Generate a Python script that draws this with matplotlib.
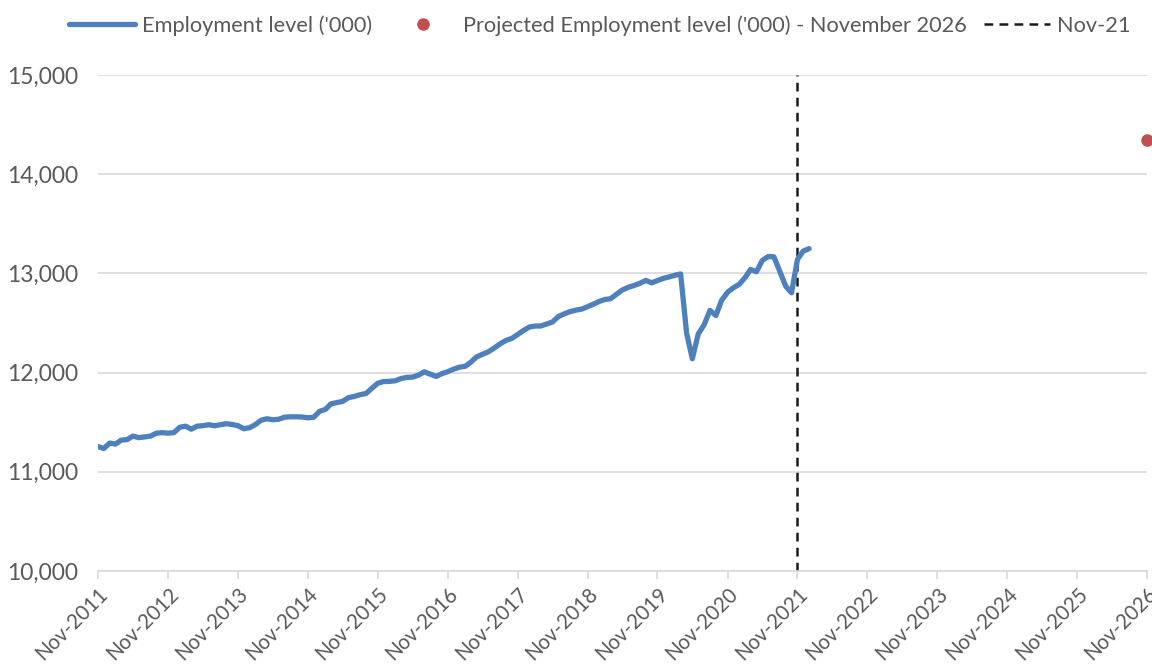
import matplotlib.pyplot as plt
import numpy as np
import pandas as pd

plt.rcParams['font.family'] = ['Lato', 'DejaVu Sans']

# Monthly employment level ('000), Nov-2011 onwards
employment = [
    11255, 11235, 11290, 11280, 11320, 11325, 11360, 11345, 11352, 11360, 11390, 11395,
    11390, 11395, 11450, 11460, 11430, 11460, 11465, 11475, 11465, 11475, 11485, 11478,
    11465, 11435, 11445, 11478, 11520, 11535, 11525, 11530, 11550, 11555, 11555, 11553,
    11545, 11550, 11610, 11630, 11685, 11698, 11710, 11748, 11760, 11778, 11790, 11842,
    11893, 11910, 11912, 11918, 11940, 11952, 11955, 11975, 12008, 11985, 11962, 11990,
    12010, 12035, 12055, 12065, 12105, 12160, 12185, 12210, 12248, 12290, 12325, 12345,
    12385, 12425, 12460, 12470, 12470, 12490, 12510, 12565, 12592, 12615, 12630, 12640,
    12665, 12690, 12718, 12738, 12745, 12790, 12833, 12860, 12878, 12900, 12930, 12905,
    12928, 12950, 12965, 12982, 12995, 12400, 12140, 12390, 12480, 12627, 12576, 12729,
    12810, 12855, 12890, 12960, 13040, 13017, 13130, 13170, 13168, 13020, 12870, 12805,
    13140, 13225, 13250,
]
start_month = '2011-11-01'

projected_date = '2026-11-01'
projected_value = 14350
marker_date = '2021-11-01'

tick_years = list(range(2011, 2027))
y_ticks = [10000, 11000, 12000, 13000, 14000, 15000]

months = pd.date_range(start_month, periods=len(employment), freq='MS')

fig = plt.figure(figsize=(11.52, 6.64), dpi=100)
ax = fig.add_axes([0.0851, 0.140, 0.9106, 0.747])

grey = '#595959'
grid = '#d9d9d9'

ax.plot(months, employment, color='#4e80bd', linewidth=3.8,
        solid_joinstyle='round', solid_capstyle='round',
        label="Employment level ('000)", zorder=3)
ax.plot([pd.Timestamp(projected_date)], [projected_value], 'o', color='#c0504d',
        markersize=8, clip_on=False, linestyle='none',
        label="Projected Employment level ('000) - November 2026", zorder=4)
ax.plot([pd.Timestamp(marker_date)] * 2, [y_ticks[0], y_ticks[-1]], color='#1a1a1a',
        linestyle=(0, (3.5, 2.5)), linewidth=1.8, label='Nov-21', zorder=2)

ax.set_ylim(y_ticks[0], y_ticks[-1])
ax.set_xlim(pd.Timestamp('2011-11-01'), pd.Timestamp('2026-11-01'))
ax.set_yticks(y_ticks)
ax.set_yticklabels([f'{v:,}' for v in y_ticks])

xt = [pd.Timestamp(f'{y}-11-01') for y in tick_years]
ax.set_xticks(xt)
ax.set_xticklabels([f'Nov-{y}' for y in tick_years], rotation=45, ha='right',
                   va='top', rotation_mode='anchor')

ax.grid(axis='y', color=grid, linewidth=1.2)
ax.set_axisbelow(True)
for s in ['top', 'right', 'left']:
    ax.spines[s].set_visible(False)
ax.spines['bottom'].set_color(grid)
ax.spines['bottom'].set_linewidth(1.2)
ax.tick_params(axis='y', length=0, pad=14, labelsize=16.5, labelcolor=grey)
ax.tick_params(axis='x', length=6, width=1.2, color=grid, pad=3,
               labelsize=14.8, labelcolor=grey)

fig.legend(loc='center', bbox_to_anchor=(0.521, 0.962), ncol=3, frameon=False,
           fontsize=15.7, labelcolor=grey, handlelength=3.0, handletextpad=0.35,
           columnspacing=0.8)

fig.savefig('out.png', dpi=100)
